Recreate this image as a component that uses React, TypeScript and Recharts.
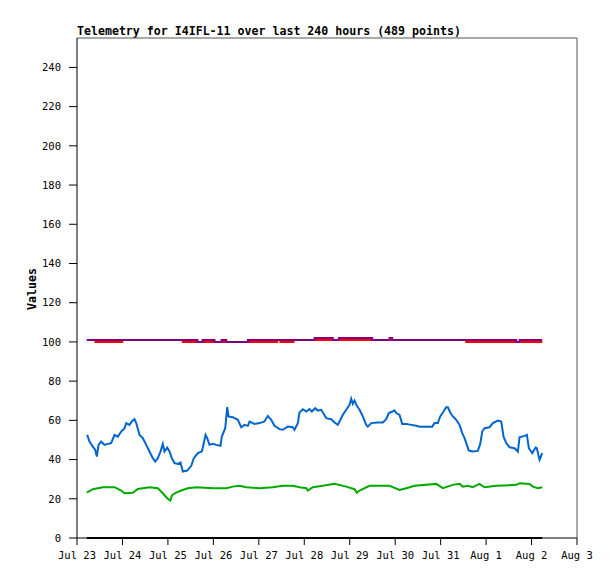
import React from 'react';
import { LineChart, Line, XAxis, YAxis, ReferenceLine } from 'recharts';

// x is days since Jul 23 00:00, y is the telemetry value
const dayLabels = ['Jul 23', 'Jul 24', 'Jul 25', 'Jul 26', 'Jul 27', 'Jul 28', 'Jul 29', 'Jul 30', 'Jul 31', 'Aug 1', 'Aug 2', 'Aug 3'];
const valueTicks = [0, 20, 40, 60, 80, 100, 120, 140, 160, 180, 200, 220, 240];

const bluePoints = [
  [0.224, 52.6], [0.275, 49.2], [0.348, 46.6], [0.4, 45], [0.436, 41.5], [0.473, 47.5], [0.532, 49.2],
  [0.605, 47.5], [0.678, 48], [0.752, 48.4], [0.825, 52.6], [0.898, 51.7], [0.972, 54.3], [1.045, 56],
  [1.083, 58.6], [1.155, 57.7], [1.206, 59.4], [1.265, 60.6], [1.303, 58.6], [1.375, 52.6], [1.448, 50.9],
  [1.523, 47.5], [1.595, 44.1], [1.668, 40.7], [1.721, 39], [1.778, 40.7], [1.837, 44.1], [1.888, 48],
  [1.925, 44.1], [1.985, 46.1], [2.035, 44.1], [2.086, 40.7], [2.145, 38.2], [2.218, 37.8], [2.277, 38.5],
  [2.328, 33.9], [2.425, 34.4], [2.513, 36.8], [2.57, 40.7], [2.658, 43.3], [2.746, 44.1], [2.79, 48.4],
  [2.827, 52.6], [2.865, 50.9], [2.915, 47.5], [2.988, 48], [3.063, 47.5], [3.157, 47], [3.186, 51.7],
  [3.261, 56], [3.305, 66.7], [3.333, 62], [3.428, 61.6], [3.538, 60.3], [3.613, 56.5], [3.685, 57.7],
  [3.758, 57.2], [3.795, 59.4], [3.905, 58.2], [4.015, 58.6], [4.125, 59.4], [4.198, 62.3], [4.273, 60.3],
  [4.345, 57.2], [4.455, 55.5], [4.528, 55.2], [4.638, 56.8], [4.748, 56.5], [4.785, 55.2], [4.858, 58.6],
  [4.895, 64], [4.968, 65.7], [5.043, 64.5], [5.116, 65.7], [5.166, 64.5], [5.241, 66.2], [5.298, 65],
  [5.373, 65.4], [5.43, 63.2], [5.483, 61.1], [5.593, 60.6], [5.666, 58.9], [5.738, 57.7], [5.776, 59.4],
  [5.848, 62.8], [5.923, 65.4], [5.996, 67.9], [6.033, 71], [6.068, 68.4], [6.106, 70.1], [6.156, 67.4],
  [6.216, 65.4], [6.288, 62], [6.363, 57.7], [6.398, 56.8], [6.473, 58.6], [6.618, 58.9], [6.728, 58.9],
  [6.803, 60.6], [6.86, 63.7], [6.986, 65], [7.023, 63.7], [7.096, 62.8], [7.155, 58.2], [7.243, 58.2],
  [7.353, 57.7], [7.463, 57.2], [7.536, 56.8], [7.683, 56.8], [7.815, 56.8], [7.866, 58.6], [7.938, 58.6],
  [7.991, 62], [8.064, 64.5], [8.123, 66.7], [8.158, 66.7], [8.211, 64], [8.268, 62], [8.343, 60.3],
  [8.416, 57.7], [8.475, 53.5], [8.526, 50.9], [8.576, 47.5], [8.62, 44.6], [8.708, 44.1], [8.818, 44.4],
  [8.871, 48], [8.915, 54.3], [8.966, 56], [9.076, 56.5], [9.149, 58.6], [9.259, 59.9], [9.333, 59.4],
  [9.384, 51.7], [9.443, 48.4], [9.516, 46.3], [9.626, 45.8], [9.699, 44.1], [9.736, 51.4], [9.846, 52.1],
  [9.897, 52.6], [9.941, 45.8], [10.015, 43.3], [10.088, 46.1], [10.117, 45.8], [10.176, 39.8], [10.235, 43.3],
];

const greenPoints = [
  [0.216, 23.1], [0.348, 24.9], [0.568, 25.9], [0.825, 25.9], [0.972, 24.2], [1.045, 22.8], [1.228, 23.1],
  [1.338, 25], [1.595, 25.9], [1.778, 25.4], [1.888, 22.8], [1.985, 20.3], [2.051, 19.1], [2.095, 22],
  [2.183, 23.1], [2.293, 24.2], [2.438, 25.4], [2.623, 25.9], [2.988, 25.4], [3.283, 25.4], [3.428, 26.2],
  [3.575, 26.6], [3.723, 25.9], [4.015, 25.4], [4.308, 25.9], [4.528, 26.6], [4.748, 26.6], [4.895, 25.9],
  [5.043, 25.4], [5.078, 24.2], [5.188, 25.9], [5.408, 26.6], [5.666, 27.6], [5.923, 26.2], [6.106, 24.9],
  [6.156, 23.1], [6.216, 24.2], [6.436, 26.6], [6.876, 26.6], [7.096, 24.5], [7.243, 25.4], [7.426, 26.6],
  [7.903, 27.6], [8.048, 25.4], [8.268, 27.1], [8.416, 27.6], [8.488, 26.2], [8.598, 26.6], [8.708, 25.9],
  [8.856, 27.6], [8.966, 25.9], [9.223, 26.6], [9.663, 27.1], [9.736, 27.9], [9.956, 27.6], [10.029, 26.2],
  [10.139, 25.4], [10.235, 25.9],
];

const redPoints = [
  [0.216, 101], [0.407, 100], [0.994, 101], [2.328, 100], [4.404, 101], [4.477, 100], [4.763, 101],
  [8.563, 100], [10.235, 100],
];

const purplePoints = [
  [0.216, 101], [2.651, 100], [2.761, 101], [3.025, 100], [3.179, 101], [3.283, 100], [3.758, 101],
  [5.225, 102], [5.628, 101], [5.76, 102], [6.495, 101], [6.876, 102], [6.935, 101], [9.663, 100],
  [9.736, 101], [10.235, 101],
];

const blackPoints = [[0.216, 0], [10.235, 0]];

const toRows = (pts: number[][]) => pts.map(([t, v]) => ({ t, v }));

const mono = '"DejaVu Sans Mono", "Liberation Mono", monospace';

export default function App() {
  return (
    <div style={{ position: 'absolute', left: 0, top: 0 }}>
      <LineChart width={615} height={579} margin={{ top: 38, right: 38, bottom: 11, left: 0 }}>
        <text x={77} y={35} fontFamily={mono} fontWeight="bold" fontSize={11.6} fill="#000">
          Telemetry for I4IFL-11 over last 240 hours (489 points)
        </text>
        <text
          x={36}
          y={289}
          transform="rotate(-90 36 289)"
          textAnchor="middle"
          fontFamily={mono}
          fontWeight="bold"
          fontSize={11.6}
          fill="#000"
        >
          Values
        </text>
        <XAxis
          type="number"
          dataKey="t"
          domain={[0, 11]}
          ticks={dayLabels.map((_, i) => i)}
          tickFormatter={(i: number) => dayLabels[i]}
          interval={0}
          height={30}
          stroke="#000"
          tickSize={7}
          tickMargin={7}
          tick={{ fontFamily: mono, fontSize: 10.5, fill: '#000' }}
          allowDuplicatedCategory={false}
        />
        <YAxis
          type="number"
          domain={[0, 255]}
          ticks={valueTicks}
          width={77}
          stroke="#000"
          tickSize={8}
          tickMargin={8}
          tick={{ fontFamily: mono, fontSize: 10.5, fill: '#000' }}
        />
        <ReferenceLine y={255} stroke="#555" strokeWidth={1} />
        <ReferenceLine x={11} stroke="#555" strokeWidth={1} />
        <Line data={toRows(blackPoints)} dataKey="v" type="linear" stroke="#000" strokeWidth={2} dot={false} isAnimationActive={false} />
        <Line data={toRows(greenPoints)} dataKey="v" type="linear" stroke="#00aa00" strokeWidth={2} dot={false} isAnimationActive={false} />
        <Line data={toRows(bluePoints)} dataKey="v" type="linear" stroke="#0066cc" strokeWidth={2} dot={false} isAnimationActive={false} />
        <Line data={toRows(redPoints)} dataKey="v" type="stepAfter" stroke="#ff0000" strokeWidth={2} dot={false} isAnimationActive={false} />
        <Line data={toRows(purplePoints)} dataKey="v" type="stepAfter" stroke="#800080" strokeWidth={2} dot={false} isAnimationActive={false} />
      </LineChart>
    </div>
  );
}
